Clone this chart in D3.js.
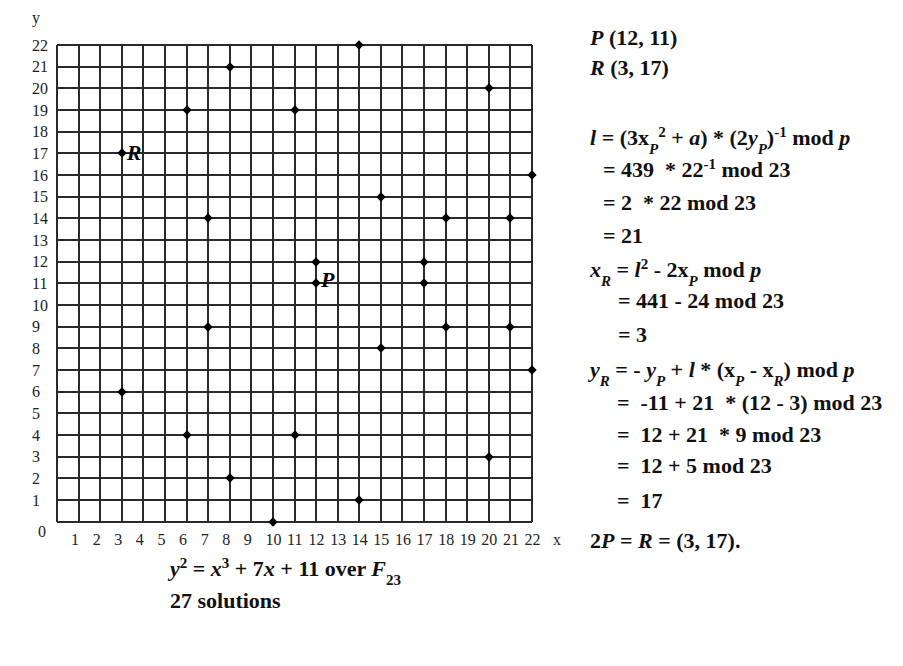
<!DOCTYPE html>
<html><head><meta charset="utf-8">
<script src="https://cdn.jsdelivr.net/npm/d3@7"></script>
<style>body{margin:0;background:#fff}svg{display:block}</style>
</head><body>
<svg id="c" width="903" height="666"></svg>
<script>
// ---- data ----
const xTicks = d3.range(1, 23);           // 1..22
const yTicks = d3.range(1, 23);           // 1..22
const pointsX = [3,3,6,6,7,7,8,8,10,11,11,12,12,14,14,15,15,17,17,18,18,20,20,21,21,22,22];
const pointsY = [17,6,19,4,14,9,21,2,0,19,4,12,11,22,1,15,8,12,11,14,9,20,3,14,9,16,7];
const labeled = [{x:12, y:11, name:"P"}, {x:3, y:17, name:"R"}];
const curveTitle = [["y","i"],["2","sup"],[" = "],["x","i"],["3","sup"],[" + 7"],["x","i"],[" + 11 over "],["F","i"],["23","sub"]];
const solutionsText = "27 solutions";

// right-hand derivation text lines (segments: [text, style])
const derivation = [
  {x:590, y:45,  s:[["P","i"],[" (12, 11)"]]},
  {x:590, y:75,  s:[["R","i"],[" (3, 17)"]]},
  {x:590, y:145, s:[["l","i"],[" = (3x"],["P","isub"],["2","sup"],[" + "],["a","i"],[") * (2"],["y","i"],["P","isub"],[")"],["-1","sup"],[" mod "],["p","i"]]},
  {x:603, y:177, s:[["= 439  * 22"],["-1","sup"],[" mod 23"]]},
  {x:603, y:210, s:[["= 2  * 22 mod 23"]]},
  {x:603, y:243, s:[["= 21"]]},
  {x:590, y:277, s:[["x","i"],["R","isub"],[" = "],["l","i"],["2","sup"],[" - 2x"],["P","isub"],[" mod "],["p","i"]]},
  {x:618, y:308, s:[["= 441 - 24 mod 23"]]},
  {x:618, y:342, s:[["= 3"]]},
  {x:590, y:377, s:[["y","i"],["R","isub"],[" = - "],["y","i"],["P","isub"],[" + "],["l","i"],[" * (x"],["P","isub"],[" - x"],["R","isub"],[") mod "],["p","i"]]},
  {x:617, y:410, s:[["=  -11 + 21  * (12 - 3) mod 23"]]},
  {x:617, y:442, s:[["=  12 + 21  * 9 mod 23"]]},
  {x:617, y:473, s:[["=  12 + 5 mod 23"]]},
  {x:617, y:508, s:[["=  17"]]},
  {x:590, y:548, s:[["2"],["P","i"],[" = "],["R","i"],[" = (3, 17)."]]}
];

// ---- drawing ----
const svg = d3.select("#c");
const serif = "Liberation Serif, Times New Roman, DejaVu Serif, serif";
const x = d3.scaleLinear().domain([0, 22]).range([57, 532]);
const y = d3.scaleLinear().domain([0, 22]).range([521.7, 45]);

const grid = svg.append("g").attr("stroke", "#2a2a2a").attr("stroke-width", 2).attr("shape-rendering","crispEdges");
grid.selectAll("line.v").data(d3.range(0, 23)).join("line")
  .attr("x1", d => Math.round(x(d))).attr("x2", d => Math.round(x(d))).attr("y1", Math.round(y(0))).attr("y2", Math.round(y(22)));
grid.selectAll("line.h").data(d3.range(0, 23)).join("line")
  .attr("y1", d => Math.round(y(d))).attr("y2", d => Math.round(y(d))).attr("x1", Math.round(x(0))).attr("x2", Math.round(x(22)));

const tickFont = {"font-family": serif, "font-size": "16px", "fill": "#222"};
function applyAttrs(sel, o){ for (const k in o) sel.attr(k, o[k]); return sel; }

applyAttrs(svg.append("g").selectAll("text").data(xTicks).join("text")
  .attr("x", d => x(d) - 7.5).attr("y", 545).text(d => d), tickFont);
applyAttrs(svg.append("g").selectAll("text").data(yTicks).join("text")
  .attr("x", 32).attr("y", d => y(d) + 5.5).text(d => d), tickFont);
applyAttrs(svg.append("text").attr("x", 38).attr("y", 537).text("0"), tickFont);
applyAttrs(svg.append("text").attr("x", 32).attr("y", 23).text("y"), tickFont);
applyAttrs(svg.append("text").attr("x", 553).attr("y", 545).text("x"), tickFont);

// points
const diamond = d3.symbol().type(d3.symbolSquare).size(44);
svg.append("g").selectAll("path").data(pointsX.map((px, i) => ({x: px, y: pointsY[i]}))).join("path")
  .attr("d", diamond)
  .attr("transform", d => `translate(${Math.round(x(d.x))},${Math.round(y(d.y))}) rotate(45)`)
  .attr("fill", "#000");

svg.append("g").selectAll("text").data(labeled).join("text")
  .attr("x", d => x(d.x) + 5).attr("y", d => y(d.y) + (d.name === "P" ? 4 : 7))
  .attr("font-family", serif).attr("font-size", "22px").attr("font-weight", "bold")
  .attr("font-style", "italic").text(d => d.name);

// rich text helper
function rich(xp, yp, segs){
  const t = svg.append("text").attr("x", xp).attr("y", yp)
    .attr("font-family", serif).attr("font-size", "22px").attr("font-weight", "bold").attr("fill", "#111")
    .attr("xml:space", "preserve").style("white-space", "pre");
  let shift = 0;
  segs.forEach(([txt, st]) => {
    st = st || "";
    let target = 0, size = null;
    if (st.includes("sub")) { target = 9; size = "15px"; }
    if (st.includes("sup")) { target = -8; size = "15px"; }
    const ts = t.append("tspan").attr("dy", target - shift).text(txt);
    shift = target;
    if (size) ts.attr("font-size", size);
    if (st.includes("i")) ts.attr("font-style", "italic");
  });
  return t;
}
derivation.forEach(d => rich(d.x, d.y, d.s));
rich(170, 576, curveTitle);
rich(170, 608, [[solutionsText]]);
</script>
</body></html>
